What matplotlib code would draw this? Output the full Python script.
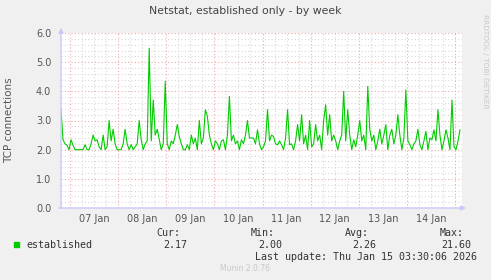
import numpy as np
import matplotlib
matplotlib.use("Agg")
import matplotlib.pyplot as plt
import matplotlib.dates as mdates
from datetime import datetime, timedelta

# established TCP connections, one value per hour
start = datetime(2026, 1, 6, 19, 30)
established = [
    3.37, 2.34, 2.2, 2.15, 2.0, 2.34, 2.15, 2.0, 2.0, 2.0,
    2.0, 2.0, 2.17, 2.0, 2.0, 2.2, 2.5, 2.3, 2.34, 2.1,
    2.0, 2.5, 2.0, 2.1, 3.0, 2.3, 2.7, 2.2, 2.0, 2.0,
    2.0, 2.2, 2.7, 2.2, 2.0, 2.17, 2.0, 2.1, 2.2, 3.0,
    2.34, 2.0, 2.2, 2.3, 5.48, 2.3, 3.7, 2.5, 2.7, 2.34,
    2.0, 2.2, 4.34, 2.2, 2.0, 2.3, 2.2, 2.5, 2.86, 2.45,
    2.2, 2.0, 2.0, 2.17, 2.0, 2.5, 2.2, 2.4, 2.0, 3.0,
    2.2, 2.4, 3.37, 3.14, 2.5, 2.2, 2.0, 2.3, 2.2, 2.0,
    2.3, 2.34, 2.0, 2.5, 3.83, 2.3, 2.5, 2.2, 2.3, 2.0,
    2.34, 2.2, 2.5, 3.0, 2.4, 2.4, 2.4, 2.2, 2.68, 2.2,
    2.0, 2.1, 2.3, 3.37, 2.3, 2.5, 2.45, 2.2, 2.17, 2.3,
    2.17, 2.0, 2.4, 3.37, 2.17, 2.2, 2.0, 2.3, 2.86, 2.3,
    3.2, 2.2, 2.5, 2.0, 3.0, 2.1, 2.2, 2.86, 2.3, 2.5,
    2.0, 3.0, 3.54, 2.5, 3.2, 2.3, 2.5, 2.3, 2.0, 2.3,
    2.5, 4.0, 2.3, 3.37, 2.5, 2.0, 2.34, 2.1, 2.5, 3.0,
    2.3, 2.5, 2.0, 4.17, 2.7, 2.3, 2.5, 2.0, 2.3, 2.7,
    2.2, 2.5, 2.86, 2.0, 2.5, 2.7, 2.2, 2.5, 3.2, 2.5,
    2.0, 2.4, 4.05, 2.3, 2.17, 2.0, 2.2, 2.3, 2.7, 2.17,
    2.0, 2.3, 2.63, 2.0, 2.4, 2.34, 2.68, 2.3, 3.37, 2.5,
    2.0, 2.3, 2.68, 2.4, 2.0, 3.7, 2.1, 2.0, 2.3, 2.68,
]
times = [start + timedelta(hours=i) for i in range(len(established))]

day_labels = ["07 Jan", "08 Jan", "09 Jan", "10 Jan", "11 Jan", "12 Jan", "13 Jan", "14 Jan"]
legend_stats = {"Cur:": "2.17", "Min:": "2.00", "Avg:": "2.26", "Max:": "21.60"}

bg = "#F0F0F0"
txt = "#555555"
axis_col = "#C8C8F8"
major_col = "#F0A8A8"
minor_col = "#D8D8D8"
green = "#00CC00"

W, H = 491, 280
fig = plt.figure(figsize=(W / 100, H / 100), dpi=100, facecolor=bg)
x0, x1, ytop, ybot = 61, 462, 33, 208
ax = fig.add_axes([x0 / W, 1 - ybot / H, (x1 - x0) / W, (ybot - ytop) / H])
ax.set_facecolor("white")

t_start = mdates.date2num(start)
t_end = t_start + 400 * 0.5 / 24
ax.set_xlim(t_start, t_end)
ax.set_ylim(0, 6)

# grid
for v in np.arange(0, 6.01, 0.2):
    major = abs(v - round(v)) < 1e-6
    ax.axhline(v, color=major_col if major else minor_col, lw=0.8,
               ls=(0, (1, 2)), zorder=1)
day0 = mdates.date2num(datetime(2026, 1, 7))
for k in range(-1, 40):
    t = day0 + k * 0.25
    if t <= t_start or t >= t_end:
        continue
    ax.axvline(t, color=major_col if k % 4 == 0 else minor_col, lw=0.8,
               ls=(0, (1, 2)), zorder=1)

ax.plot(times, established, color=green, lw=0.8, zorder=3)

for s in ax.spines.values():
    s.set_visible(False)
ax.tick_params(length=0, colors=txt, labelsize=7)
ax.set_yticks(np.arange(0, 6.1, 1.0))
ax.set_yticklabels([f"{v:.1f}" for v in np.arange(0, 6.1, 1.0)])
ax.set_xticks([day0 + i + 0.5 for i in range(len(day_labels))])
ax.set_xticklabels(day_labels)
ax.tick_params(axis="y", pad=7)
ax.tick_params(axis="x", pad=4)
ax.set_ylabel("TCP connections", color=txt, fontsize=7.5, labelpad=16)

# axis lines with arrows
ax.annotate("", xy=(0, 1.03), xytext=(0, 0), xycoords="axes fraction",
            arrowprops=dict(arrowstyle="-|>", color=axis_col, lw=1, mutation_scale=7,
                            shrinkA=0, shrinkB=0))
ax.annotate("", xy=(1.01, 0), xytext=(-0.005, 0), xycoords="axes fraction",
            arrowprops=dict(arrowstyle="-|>", color=axis_col, lw=1, mutation_scale=7,
                            shrinkA=0, shrinkB=0))

fig.text(245 / W, 1 - 11.5 / H, "Netstat, established only - by week",
         ha="center", va="center", fontsize=7.8, color="#444444")
fig.text(485 / W, 1 - 14 / H, "RRDTOOL / TOBI OETIKER", rotation=270,
         ha="center", va="top", fontsize=5.3, color="#C8C8C8")

mono = "DejaVu Sans Mono"
fig.patches.append(plt.Rectangle((14 / W, 1 - 247 / H), 5 / W, 5 / H,
                                 transform=fig.transFigure, color=green))
fig.text(26 / W, 1 - 244.5 / H, "established", family=mono, fontsize=7.2,
         color="#333333", va="center", ha="left")
for (lab, val), xr in zip(legend_stats.items(), [180, 275, 369, 464]):
    fig.text(xr / W, 1 - 232.5 / H, lab, family=mono, fontsize=7.2,
             color="#333333", va="center", ha="right")
    fig.text((xr + 7) / W, 1 - 244.5 / H, val, family=mono, fontsize=7.2,
             color="#333333", va="center", ha="right")
fig.text(477 / W, 1 - 256.5 / H, "Last update: Thu Jan 15 03:30:06 2026",
         family=mono, fontsize=7.2, color="#333333", va="center", ha="right")
fig.text(245 / W, 1 - 268.5 / H, "Munin 2.0.76", fontsize=5.5,
         color="#C8C8C8", va="center", ha="center")

fig.savefig("out.png", dpi=100, facecolor=bg)
